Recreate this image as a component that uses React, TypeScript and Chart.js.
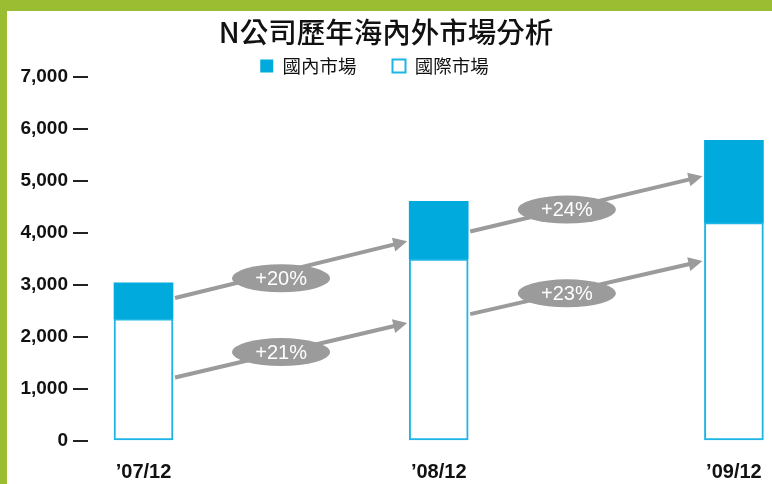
import React, { useEffect, useRef } from "react";
import { Chart, registerables } from "chart.js";

Chart.register(...registerables);

// ---- data ----
const categories = ["’07/12", "’08/12", "’09/12"];
const internationalMarket = [2350, 3500, 4200];
const domesticMarket = [690, 1110, 1580];
const yTicks = [0, 1000, 2000, 3000, 4000, 5000, 6000, 7000];

// growth arrows (from category index i to i+1), values on the y scale
const arrowFromIndex = [0, 0, 1, 1];
const arrowFromValue = [2750, 1220, 4030, 2440];
const arrowToValue = [3840, 2270, 5090, 3460];
const growthLabels = ["+20%", "+21%", "+24%", "+23%"];
const bubbleX = [0.466, 0.466, 1.434, 1.434];
const bubbleY = [3130, 1710, 4450, 2840];

const TITLE = "N公司歷年海內外市場分析";
const BLUE = "#00AADD";
const BLUE_LINE = "#1DB4E6";
const GREEN = "#9ABD32";
const GREY = "#9B9B9B";
const LEGEND_PAD = 36;
const LEGEND_FONT = 18.5;

const framePlugin = {
  id: "frame",
  beforeDraw(chart: any) {
    const { ctx, width, height } = chart;
    ctx.save();
    ctx.fillStyle = GREEN;
    ctx.fillRect(0, 0, width, 11);
    ctx.fillRect(0, 0, 7, height);
    ctx.restore();
  },
  afterLayout(chart: any) {
    const lg = chart.legend;
    if (lg) {
      lg.right -= 23;
      lg.top = 66 - LEGEND_FONT / 2 - LEGEND_PAD;
    }
  },
};

const growthPlugin = {
  id: "growth",
  afterDatasetsDraw(chart: any) {
    const { ctx } = chart;
    const xs = chart.scales.x;
    const ys = chart.scales.y;
    const meta = chart.getDatasetMeta(0);
    const half = meta.data[0] ? meta.data[0].width / 2 : 29;
    ctx.save();
    ctx.strokeStyle = GREY;
    ctx.fillStyle = GREY;
    ctx.lineWidth = 4;
    for (let k = 0; k < arrowFromIndex.length; k++) {
      const i = arrowFromIndex[k];
      const x1 = xs.getPixelForValue(i) + half + 2;
      const x2 = xs.getPixelForValue(i + 1) - half - 2;
      const y1 = ys.getPixelForValue(arrowFromValue[k]);
      const y2 = ys.getPixelForValue(arrowToValue[k]);
      const ang = Math.atan2(y2 - y1, x2 - x1);
      const headLen = 14;
      const headW = 7;
      const bx = x2 - headLen * Math.cos(ang);
      const by = y2 - headLen * Math.sin(ang);
      ctx.beginPath();
      ctx.moveTo(x1, y1);
      ctx.lineTo(bx + 2 * Math.cos(ang), by + 2 * Math.sin(ang));
      ctx.stroke();
      ctx.beginPath();
      ctx.moveTo(x2, y2);
      ctx.lineTo(bx + headW * Math.sin(ang), by - headW * Math.cos(ang));
      ctx.lineTo(bx - headW * Math.sin(ang), by + headW * Math.cos(ang));
      ctx.closePath();
      ctx.fill();
    }
    for (let k = 0; k < growthLabels.length; k++) {
      const cx = xs.getPixelForValue(bubbleX[k]);
      const cy = ys.getPixelForValue(bubbleY[k]);
      ctx.fillStyle = GREY;
      ctx.beginPath();
      ctx.ellipse(cx, cy, 49, 14, 0, 0, Math.PI * 2);
      ctx.fill();
      ctx.fillStyle = "#ffffff";
      ctx.font = "20px 'Liberation Sans', Arial, sans-serif";
      ctx.textAlign = "center";
      ctx.textBaseline = "middle";
      ctx.fillText(growthLabels[k], cx, cy + 1);
    }
    ctx.restore();
  },
};

export default function App() {
  const ref = useRef<HTMLCanvasElement | null>(null);
  useEffect(() => {
    if (!ref.current) return;
    const chart = new Chart(ref.current, {
      type: "bar",
      data: {
        datasets: [
          {
            label: "國際市場",
            data: internationalMarket.map((v, i) => ({ x: i, y: v })),
            backgroundColor: "#ffffff",
            borderColor: BLUE_LINE,
            borderWidth: 2,
            borderSkipped: false,
            barThickness: 59,
          },
          {
            label: "國內市場",
            data: domesticMarket.map((v, i) => ({ x: i, y: v })),
            backgroundColor: BLUE,
            borderColor: BLUE,
            borderWidth: 0,
            barThickness: 59,
          },
        ],
      },
      options: {
        responsive: false,
        animation: false,
        events: [],
        layout: { padding: { left: 0, right: 0, top: 0, bottom: 0 } },
        plugins: {
          tooltip: { enabled: false },
          title: {
            display: true,
            text: TITLE,
            color: "#111111",
            font: { family: "'Noto Sans CJK TC', 'Noto Sans', sans-serif", size: 28.5, weight: "500", lineHeight: 1.2 },
            padding: { top: 15, bottom: 1 },
          },
          legend: {
            display: true,
            reverse: true,
            maxHeight: 26.8,
            labels: {
              color: "#111111",
              boxWidth: 13,
              boxHeight: 13,
              padding: LEGEND_PAD,
              font: { family: "'Noto Sans CJK TC', 'Noto Sans', sans-serif", size: LEGEND_FONT },
            },
          },
        },
        scales: {
          x: {
            type: "linear",
            stacked: true,
            offset: false,
            min: -0.188,
            max: 2.129,
            afterFit: (scale: any) => {
              scale.height = 43;
              scale.paddingLeft = 0;
              scale.paddingRight = 0;
            },
            grid: { display: false, drawTicks: false, offset: false },
            border: { display: false },
            ticks: {
              stepSize: 1,
              includeBounds: false,
              autoSkip: false,
              maxRotation: 0,
              padding: 19.5,
              color: "#111111",
              font: { family: "'Liberation Sans', Arial, sans-serif", size: 20, weight: "bold" },
              callback: (v: any) => (Number.isInteger(v) && categories[v] !== undefined ? categories[v] : ""),
            },
          },
          y: {
            stacked: true,
            min: yTicks[0],
            max: yTicks[yTicks.length - 1],
            afterFit: (scale: any) => {
              scale.width = 88;
            },
            afterBuildTicks: (scale: any) => {
              scale.ticks = yTicks.map((v) => ({ value: v }));
            },
            grid: {
              drawOnChartArea: false,
              drawTicks: true,
              tickLength: 15,
              color: "#222222",
              lineWidth: 2,
            },
            border: { display: false },
            ticks: {
              padding: 5,
              color: "#111111",
              font: { family: "'Liberation Sans', Arial, sans-serif", size: 19, weight: "bold" },
              callback: (v: any) => Number(v).toLocaleString("en-US"),
            },
          },
        },
      },
      plugins: [framePlugin, growthPlugin],
    });
    return () => chart.destroy();
  }, []);
  return (
    <div style={{ position: "fixed", left: 0, top: 0, width: 772, height: 484, background: "#ffffff" }}>
      <canvas ref={ref} width={772} height={484} style={{ display: "block" }} />
    </div>
  );
}
